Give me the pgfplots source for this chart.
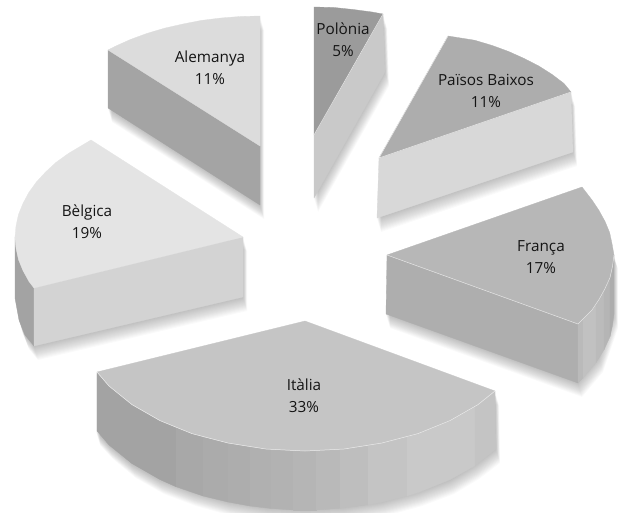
\documentclass[border=0pt]{standalone}
\usepackage{pgfplots}
\pgfplotsset{compat=1.18}
\usepackage{fontspec}
\setmainfont{Open Sans}
\newcommand\poly[2]{\addplot[fill=#1,draw=#1,line width=0.3pt,line join=round] coordinates {#2} -- cycle;}
\newcommand\rim[2]{\addplot[draw=#1,line width=0.5pt] coordinates {#2};}
\newcommand\silk[3]{\addplot[fill=black,fill opacity=0.02,draw=none,xshift=#1pt,yshift=-#2pt] coordinates {#3} -- cycle;}
\newcommand\sil[1]{\silk{4}{14}{#1}\silk{3.7}{13}{#1}\silk{3.4}{12}{#1}\silk{3.1}{11}{#1}\silk{2.8}{10}{#1}\silk{2.5}{9}{#1}\silk{2.2}{8}{#1}\silk{1.9}{7}{#1}\silk{1.6}{6}{#1}\silk{1.3}{5}{#1}\silk{1}{4}{#1}\silk{0.7}{3}{#1}\silk{0.4}{2}{#1}\silk{0.1}{1}{#1}}
\newcommand\lab[4]{\node[align=center,text=black!92,font=\fontsize{15.3}{22}\selectfont] at (axis cs:#1,#2) {#3\\#4};}
\begin{document}
\begin{tikzpicture}
\begin{axis}[name=ax,width=618pt,height=512pt,scale only axis,xmin=0,xmax=618,ymin=0,ymax=512,y dir=reverse,hide axis,no markers,clip=true]
% shadows
\sil{(260,16)(260,205)(108,108)(108,50)(164,28)}
\sil{(314,7)(383,14)(385,72)(314,198)}
\sil{(448,36)(571,92)(573,152)(377,218)(379,158)}
\sil{(91,140)(243,237)(243,297)(34,346)(25,335)(19,320)(15,298)(15,237)}
\sil{(387,255)(582,187)(614,255)(614,314)(599,358)(578,383)(386,314)}
\sil{(96,372)(305,321)(495,391)(496,449)(475,465)(450,480)(418,492)(382,502)(344,508)(305,510)(266,508)(228,502)(192,492)(160,480)(132,464)(109,445)(96,431)}
% Alemanya
\poly{black!35.7}{(108,50)(260,146)(260,205)(108,108)}
\poly{black!13.7}{(260,16)(240,16.5)(221,18)(201.5,20.4)(183,24)(164.5,28.2)(147,33.4)(130.4,39.5)(115,46.4)(108,50)(260,146)}
% Polonia
\poly{black!21.2}{(314,135)(383,14)(385,72)(314,198)}
\poly{black!39.2}{(314,7)(334,7.5)(353,9.5)(372,12)(383,14)(314,135)}
\rim{black!8}{(383,14)(314,135)}
% Paisos Baixos
\poly{black!15.3}{(379,158)(571,92)(573,152)(377,218)}
\poly{black!32.2}{(448,36)(474.5,40.2)(492,45.4)(508.6,51.5)(524,58.4)(538.8,66)(552,74.4)(564,83.5)(571,92)(379,158)}
\rim{black!8}{(448,36)(379,158)(571,92)}
% Belgica
\poly{black!36}{(15,237)(16,248)(18.5,259.6)(23,270.6)(29,281.5)(34,288)(34,346)(25,335)(19,320)(15,298)}
\poly{black!17.3}{(34,288)(243,237)(243,297)(34,346)}
\poly{black!10.6}{(91,140)(68.5,153.4)(56,162.4)(45.6,172)(36.4,182)(28.8,192.5)(23,203.4)(18.5,214.4)(16,226)(15,237)(16,248)(18.5,259.6)(23,270.6)(29,281.5)(34,288)(243,237)}
% Franca
\poly{black!31.8}{(387,255)(578,324)(578,383)(386,314)}
\poly{black!27}{(578,324)(583,320)(583,378)(578,383)}
\poly{black!24.5}{(583,320)(596,303.7)(596,362.7)(583,378)}
\poly{black!26.5}{(596,303.7)(604,290.8)(604,349.8)(596,362.7)}
\poly{black!29}{(604,290.8)(610,277.6)(610,336.6)(604,349.8)}
\poly{black!32}{(610,277.6)(612.5,266.3)(614,255)(614,314)(612.5,325.3)(610,336.6)}
\poly{black!28.2}{(387,255)(582,187)(592,200)(599,210.5)(605,221.4)(609.6,232.4)(612,243.7)(614,255)(612.5,266.3)(610,277.6)(605,288.6)(599,299.5)(592,310)(578,324)}
\rim{black!10}{(387,255)(578,324)(592,310)(599,299.5)(605,288.6)(610,277.6)(612.5,266.3)(614,255)}
% Italia
\poly{black!36}{(97,372)(109,386)(132,404.6)(160,420.6)(176,427.7)(176,486.7)(160,479.6)(132,463.6)(109,445)(97,431)}
\poly{black!34}{(176,427.7)(203,437)(203,496)(176,486.7)}
\poly{black!33}{(203,437)(228,443)(228,502)(203,496)}
\poly{black!32}{(228,443)(250,447)(250,506)(228,502)}
\poly{black!31}{(250,447)(271,449.5)(271,508.5)(250,506)}
\poly{black!30}{(271,449.5)(293,451)(293,510)(271,508.5)}
\poly{black!29}{(293,451)(316,451)(316,510)(293,510)}
\poly{black!27.5}{(316,451)(340,449.4)(340,508.4)(316,510)}
\poly{black!25.5}{(340,449.4)(368,445.8)(368,504.8)(340,508.4)}
\poly{black!23}{(368,445.8)(382,443)(407,437)(407,496)(382,502)(368,504.8)}
\poly{black!21}{(407,437)(418,433.6)(450,420.6)(475,406.7)(475,465.7)(450,479.6)(418,492.6)(407,496)}
\poly{black!23}{(475,406.7)(495,391)(496,449)(475,465.7)}
\poly{black!22.7}{(97,372)(305,321)(495,391)(478,404.6)(450,420.6)(418,433.6)(382,443)(344,449)(305,451)(266,449)(228,443)(192,433.6)(160,420.6)(132,404.6)(109,386)}
\rim{black!8}{(97,372)(109,386)(132,404.6)(160,420.6)(192,433.6)(228,443)(266,449)(305,451)(344,449)(382,443)(418,433.6)(450,420.6)(478,404.6)(495,391)}
% labels
\lab{210}{68}{Alemanya}{11\%}
\lab{87}{222}{Bèlgica}{19\%}
\lab{343}{40}{Polònia}{5\%}
\lab{486}{91}{Països Baixos}{11\%}
\lab{541}{257}{França}{17\%}
\lab{304}{396}{Itàlia}{33\%}
\end{axis}
\pgfresetboundingbox
\path (ax.south west) rectangle (ax.north east);
\end{tikzpicture}
\end{document}
